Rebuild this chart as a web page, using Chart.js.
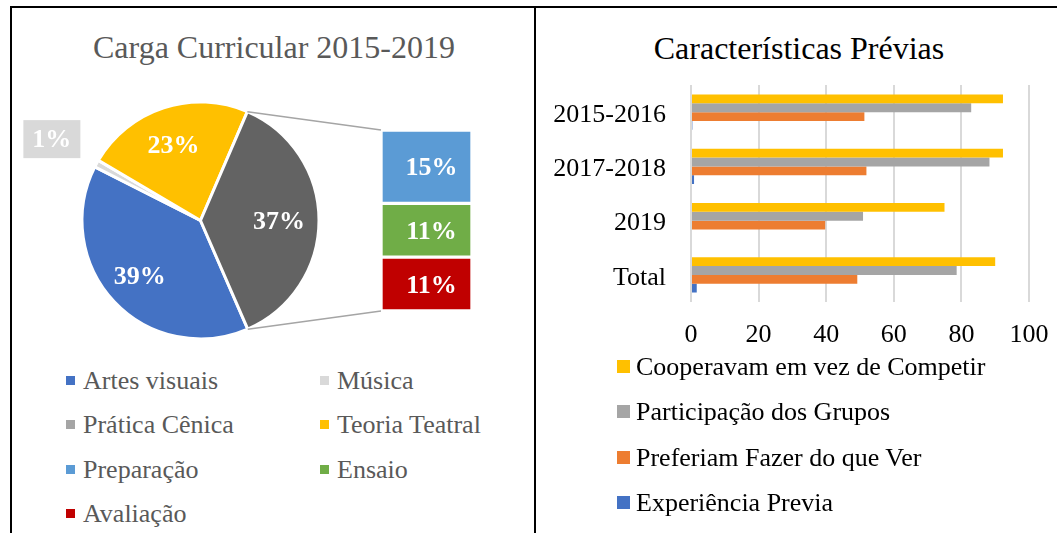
<!DOCTYPE html>
<html>
<head>
<meta charset="utf-8">
<script src="https://cdn.jsdelivr.net/npm/chart.js@4"></script>
<style>
  body { margin: 0; width: 1057px; height: 533px; position: relative; overflow: hidden; background: #fff; }
  .line { position: absolute; background: #000; }
  .title { position: absolute; font-family: 'Liberation Serif', 'Times New Roman', serif; font-size: 32px; line-height: 38px; text-align: center; white-space: nowrap; }
  .legend { position: absolute; font-family: 'Liberation Serif', 'Times New Roman', serif; font-size: 26px; white-space: nowrap; }
  .legend .item { position: absolute; height: 32px; line-height: 32px; }
  .legend .box { position: absolute; top: 50%; }
  canvas { position: absolute; }
</style>
</head>
<body>
<div class="line" style="left:10px;top:6px;width:1047px;height:2px"></div>
<div class="line" style="left:10px;top:6px;width:2px;height:527px"></div>
<div class="line" style="left:534px;top:6px;width:2px;height:527px"></div>

<div class="title" style="left:12px;top:28px;width:524px;color:#595959">Carga Curricular 2015-2019</div>
<div class="title" style="left:536px;top:29px;width:526px;color:#000">Características Prévias</div>

<canvas id="pieChart" width="520" height="345" style="left:13px;top:9px"></canvas>
<canvas id="splitChart" width="91" height="181" style="left:381px;top:130px"></canvas>
<canvas id="barChart" width="520" height="345" style="left:537px;top:9px"></canvas>

<div class="legend" id="pieLegend" style="left:0;top:0;color:#595959"></div>
<div class="legend" id="barLegend" style="left:0;top:0;color:#000"></div>

<script>
// pie (clockwise order as drawn)
const pieLabels = ['Artes visuais', 'Música', 'Teoria Teatral', 'Prática Cênica'];
const pieValues = [39, 1, 23, 37];
const pieColors = ['#4472C4', '#D9D9D9', '#FFC000', '#636363'];

// bar of pie: breakdown of Prática Cênica
const splitLabels = ['Preparação', 'Ensaio', 'Avaliação'];
const splitValues = [15, 11, 11];
const splitColors = ['#5B9BD5', '#70AD47', '#C00000'];

const pieLegendItems = [
    ['Artes visuais', '#4472C4'], ['Música', '#D9D9D9'],
    ['Prática Cênica', '#A5A5A5'], ['Teoria Teatral', '#FFC000'],
    ['Preparação', '#5B9BD5'], ['Ensaio', '#70AD47'],
    ['Avaliação', '#C00000']
];

// right chart
const periods = ['2015-2016', '2017-2018', '2019', 'Total'];
const cooperavam = [92.3, 92.3, 75, 90];
const participacao = [82.9, 88.3, 50.9, 78.6];
const preferiam = [51.3, 51.9, 39.7, 49.2];
const experiencia = [0.4, 0.9, 0, 1.7];
const xTicks = [0, 20, 40, 60, 80, 100];

const serif = "'Liberation Serif', 'Times New Roman', serif";

function pct(v) { return v + '%'; }

// legends
const pieLegend = document.getElementById('pieLegend');
pieLegendItems.forEach((it, i) => {
    const col = i % 2, row = Math.floor(i / 2);
    const d = document.createElement('div');
    d.className = 'item';
    d.style.left = (66 + col * 254) + 'px';
    d.style.top = (381 + row * 44.3 - 16) + 'px';
    d.innerHTML = '<span class="box" style="left:0;width:9px;height:9px;margin-top:-5px;background:' + it[1] + '"></span>' +
        '<span style="padding-left:17px">' + it[0] + '</span>';
    pieLegend.appendChild(d);
});

const barSeries = [
    ['Cooperavam em vez de Competir', cooperavam, '#FFC000'],
    ['Participação dos Grupos', participacao, '#A5A5A5'],
    ['Preferiam Fazer do que Ver', preferiam, '#ED7D31'],
    ['Experiência Previa', experiencia, '#4472C4']
];
const barLegend = document.getElementById('barLegend');
barSeries.forEach((s, i) => {
    const d = document.createElement('div');
    d.className = 'item';
    d.style.left = '617px';
    d.style.top = (367 + i * 45.3 - 16) + 'px';
    d.innerHTML = '<span class="box" style="left:0;width:13px;height:13px;margin-top:-7px;background:' + s[2] + '"></span>' +
        '<span style="padding-left:19px">' + s[0] + '</span>';
    barLegend.appendChild(d);
});

// bar of pie
const splitLabelPlugin = {
    id: 'splitLabels',
    afterDatasetsDraw(chart) {
        const ctx = chart.ctx;
        ctx.save();
        ctx.font = 'bold 26px ' + serif;
        ctx.fillStyle = '#fff';
        ctx.textAlign = 'center';
        ctx.textBaseline = 'middle';
        chart.data.datasets.forEach((ds, i) => {
            const bar = chart.getDatasetMeta(i).data[0];
            ctx.fillText(pct(ds.data[0]), bar.x + 5, (bar.y + bar.base) / 2 + 2);
        });
        ctx.restore();
    }
};

const splitChart = new Chart(document.getElementById('splitChart'), {
    type: 'bar',
    data: {
        labels: ['Prática Cênica'],
        datasets: splitLabels.map((l, i) => ({
            label: l,
            data: [splitValues[i]],
            backgroundColor: splitColors[i],
            borderColor: '#fff',
            borderWidth: 2,
            borderSkipped: false,
            barPercentage: 1,
            categoryPercentage: 1
        }))
    },
    options: {
        responsive: false,
        animation: false,
        layout: { padding: 0 },
        plugins: { legend: { display: false }, tooltip: { enabled: false } },
        scales: {
            x: { stacked: true, display: false },
            y: { stacked: true, display: false, reverse: true, min: 0,
                 max: splitValues.reduce((a, b) => a + b, 0) }
        }
    },
    plugins: [splitLabelPlugin]
});

// pie labels + connector lines
const pieExtras = {
    id: 'pieExtras',
    afterDatasetsDraw(chart) {
        const ctx = chart.ctx;
        const meta = chart.getDatasetMeta(0);
        ctx.save();
        ctx.font = 'bold 26px ' + serif;
        ctx.textAlign = 'center';
        ctx.textBaseline = 'middle';
        meta.data.forEach((arc, i) => {
            const mid = (arc.startAngle + arc.endAngle) / 2;
            const v = pieValues[i];
            if (v < 5) {
                const r = arc.outerRadius * 1.43;
                const x = arc.x + Math.cos(mid) * r, y = arc.y + Math.sin(mid) * r;
                ctx.fillStyle = '#D9D9D9';
                ctx.fillRect(x - 28.5, y - 19, 57, 38);
                ctx.fillStyle = '#fff';
                ctx.fillText(pct(v), x, y + 1);
            } else {
                const r = arc.outerRadius * 0.68;
                ctx.fillStyle = '#fff';
                ctx.fillText(pct(v), arc.x + Math.cos(mid) * r - 2, arc.y + Math.sin(mid) * r + 2);
            }
        });

        // connectors from the Prática Cênica slice to the breakdown bar
        const arc = meta.data[pieLabels.indexOf('Prática Cênica')];
        const pr = chart.canvas.getBoundingClientRect();
        const sr = splitChart.canvas.getBoundingClientRect();
        const ox = sr.left - pr.left, oy = sr.top - pr.top;
        const first = splitChart.getDatasetMeta(0).data[0];
        const last = splitChart.getDatasetMeta(splitValues.length - 1).data[0];
        const left = ox + first.x - first.width / 2;
        const top = oy + Math.min(first.y, first.base);
        const bottom = oy + Math.max(last.y, last.base);
        ctx.strokeStyle = '#A5A5A5';
        ctx.lineWidth = 1.5;
        ctx.beginPath();
        ctx.moveTo(arc.x + Math.cos(arc.startAngle) * arc.outerRadius, arc.y + Math.sin(arc.startAngle) * arc.outerRadius);
        ctx.lineTo(left, top);
        ctx.moveTo(arc.x + Math.cos(arc.endAngle) * arc.outerRadius, arc.y + Math.sin(arc.endAngle) * arc.outerRadius);
        ctx.lineTo(left, bottom);
        ctx.stroke();
        ctx.restore();
    }
};

new Chart(document.getElementById('pieChart'), {
    type: 'pie',
    data: {
        labels: pieLabels,
        datasets: [{
            data: pieValues,
            backgroundColor: pieColors,
            borderColor: '#fff',
            borderWidth: 3
        }]
    },
    options: {
        responsive: false,
        animation: false,
        rotation: 156.5,
        layout: { padding: { left: 67.5, right: 212.5, top: 91.5, bottom: 13.5 } },
        plugins: { legend: { display: false }, tooltip: { enabled: false } }
    },
    plugins: [pieExtras]
});

// right chart
new Chart(document.getElementById('barChart'), {
    type: 'bar',
    data: {
        labels: periods,
        datasets: barSeries.map(s => ({
            label: s[0],
            data: s[1],
            backgroundColor: s[2],
            barPercentage: 1,
            categoryPercentage: 0.65
        }))
    },
    options: {
        indexAxis: 'y',
        responsive: false,
        animation: false,
        layout: { padding: { left: 16, right: 28, top: 76, bottom: 5 } },
        plugins: { legend: { display: false }, tooltip: { enabled: false } },
        scales: {
            x: {
                min: 0, max: 100,
                afterBuildTicks(axis) { axis.ticks = xTicks.map(v => ({ value: v })); },
                afterFit(axis) { axis.height = 47; axis.paddingLeft = 0; axis.paddingRight = 0; },
                grid: { color: '#D9D9D9', lineWidth: 2, drawTicks: false },
                border: { display: false },
                ticks: { padding: 18, maxRotation: 0, color: '#000', font: { family: serif, size: 26 } }
            },
            y: {
                afterFit(axis) { axis.width = 138; },
                grid: { display: false, drawTicks: false },
                border: { display: false },
                ticks: { padding: 25, labelOffset: 3, color: '#000', font: { family: serif, size: 26 } }
            }
        }
    }
});
</script>
</body>
</html>
